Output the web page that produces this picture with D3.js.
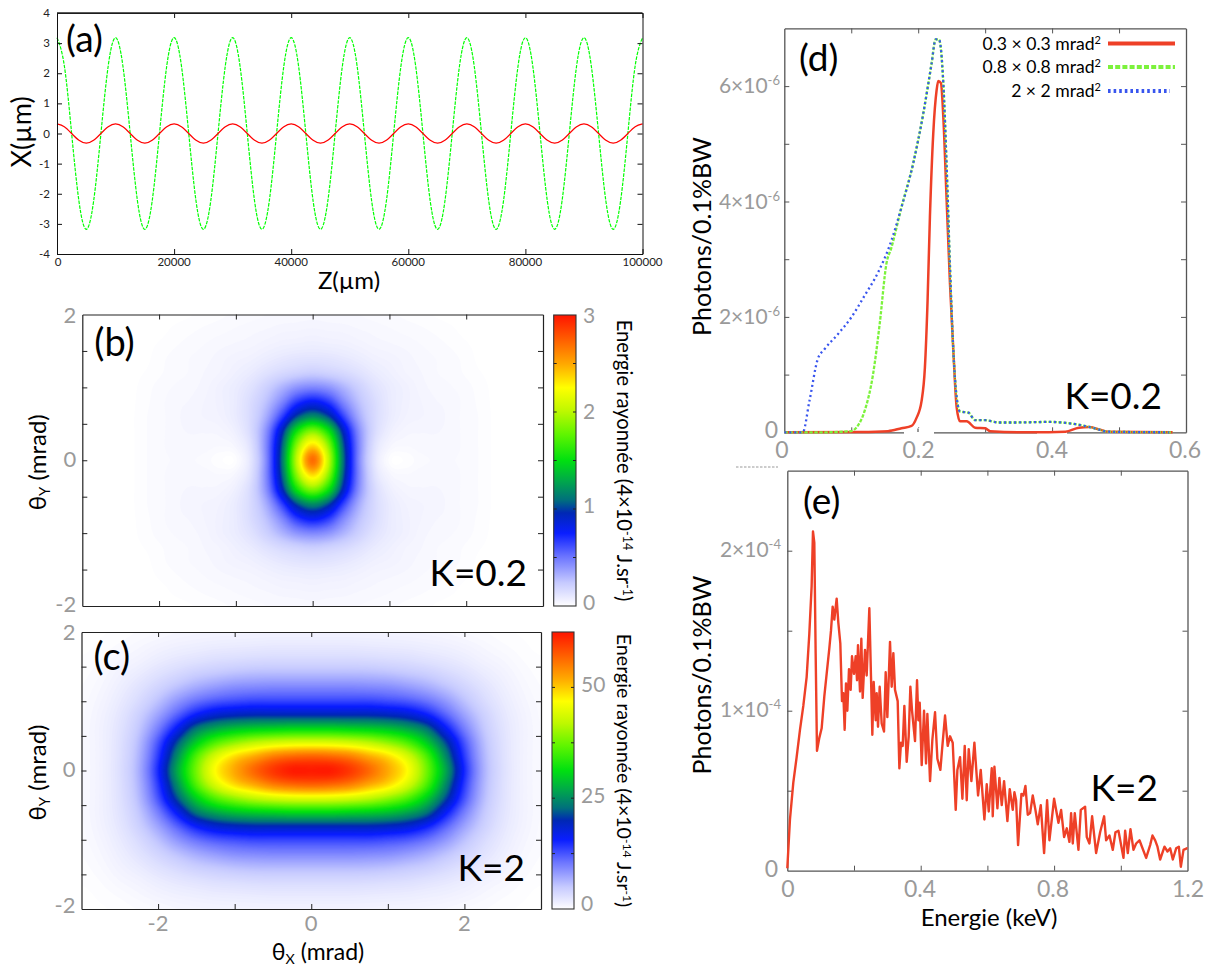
<!DOCTYPE html>
<html><head><meta charset="utf-8">
<script src="https://cdn.jsdelivr.net/npm/d3@7/dist/d3.min.js"></script>
<style>
html,body{margin:0;padding:0;background:#fff}
svg{display:block}
text{font-family:Lato,"Open Sans",sans-serif}
</style></head><body>
<svg id="fig" width="1206" height="966"></svg>
<script>
// ---------- panel (a): trajectories, read every 1250 µm
const trajZ = [0,1250,2500,3750,5000,6250,7500,8750,10000,11250,12500,13750,15000,16250,17500,18750,20000,21250,22500,23750,25000,26250,27500,28750,30000,31250,32500,33750,35000,36250,37500,38750,40000,41250,42500,43750,45000,46250,47500,48750,50000,51250,52500,53750,55000,56250,57500,58750,60000,61250,62500,63750,65000,66250,67500,68750,70000,71250,72500,73750,75000,76250,77500,78750,80000,81250,82500,83750,85000,86250,87500,88750,90000,91250,92500,93750,95000,96250,97500,98750,100000];
const trajK2 = [3.18,2.25,0,-2.25,-3.18,-2.25,0,2.25,3.18,2.25,0,-2.25,-3.18,-2.25,0,2.25,3.18,2.25,0,-2.25,-3.18,-2.25,0,2.25,3.18,2.25,0,-2.25,-3.18,-2.25,0,2.25,3.18,2.25,0,-2.25,-3.18,-2.25,0,2.25,3.18,2.25,0,-2.25,-3.18,-2.25,0,2.25,3.18,2.25,0,-2.25,-3.18,-2.25,0,2.25,3.18,2.25,0,-2.25,-3.18,-2.25,0,2.25,3.18,2.25,0,-2.25,-3.18,-2.25,0,2.25,3.18,2.25,0,-2.25,-3.18,-2.25,0,2.25,3.18];
const trajK02 = [0.32,0.225,0,-0.225,-0.32,-0.225,0,0.225,0.32,0.225,0,-0.225,-0.32,-0.225,0,0.225,0.32,0.225,0,-0.225,-0.32,-0.225,0,0.225,0.32,0.225,0,-0.225,-0.32,-0.225,0,0.225,0.32,0.225,0,-0.225,-0.32,-0.225,0,0.225,0.32,0.225,0,-0.225,-0.32,-0.225,0,0.225,0.32,0.225,0,-0.225,-0.32,-0.225,0,0.225,0.32,0.225,0,-0.225,-0.32,-0.225,0,0.225,0.32,0.225,0,-0.225,-0.32,-0.225,0,0.225,0.32,0.225,0,-0.225,-0.32,-0.225,0,0.225,0.32];
const aXTicks = [0,20000,40000,60000,80000,100000];
const aYTicks = [-4,-3,-2,-1,0,1,2,3,4];

// ---------- panel (b): radiated energy, one quadrant (θx >= 0, θy >= 0)
const bThetaX = [0,0.2,0.4,0.6,0.8,1,1.2,1.4,1.6,1.8,2,2.2,2.4,2.6,2.8,3];
const bThetaY = [0,0.2,0.4,0.6,0.8,1,1.2,1.4,1.6,1.8,2];
const bEnergy = [
 [2.7,2.05,1.1,0.45,0.12,0.01,0.005,0.02,0.025,0.025,0.02,0.012,0,0,0,0],
 [2.35,1.9,1.05,0.46,0.14,0.04,0.025,0.03,0.03,0.03,0.02,0.012,0,0,0,0],
 [1.85,1.55,0.92,0.43,0.17,0.07,0.04,0.035,0.035,0.03,0.02,0.012,0,0,0,0],
 [1.2,1.03,0.65,0.34,0.17,0.09,0.055,0.045,0.04,0.03,0.02,0.012,0,0,0,0],
 [0.78,0.68,0.45,0.27,0.16,0.09,0.06,0.045,0.035,0.03,0.02,0.01,0,0,0,0],
 [0.45,0.41,0.31,0.21,0.13,0.085,0.06,0.04,0.03,0.025,0.018,0.008,0,0,0,0],
 [0.22,0.2,0.17,0.13,0.09,0.065,0.045,0.035,0.025,0.02,0.012,0.004,0,0,0,0],
 [0.12,0.115,0.1,0.08,0.06,0.05,0.04,0.03,0.024,0.018,0.01,0,0,0,0,0],
 [0.07,0.065,0.06,0.05,0.04,0.035,0.03,0.024,0.018,0.012,0.005,0,0,0,0,0],
 [0.045,0.042,0.04,0.034,0.03,0.025,0.02,0.016,0.011,0.006,0,0,0,0,0,0],
 [0.03,0.028,0.026,0.024,0.02,0.016,0.012,0.008,0.003,0,0,0,0,0,0,0]
];
// ---------- panel (c): radiated energy, one quadrant
const cThetaX = [0,0.25,0.5,0.75,1,1.25,1.5,1.75,2,2.25,2.5,2.75,3];
const cThetaY = [0,0.2,0.4,0.6,0.8,1,1.2,1.4,1.6,1.8,2];
const cEnergy = [
 [62,62,60,56.5,52,47,38,27,15,6.8,3,1.2,0.5],
 [57,56.5,55,52,49,44,36,25,14,6.5,2.9,1.2,0.5],
 [44.5,44.3,43.5,42,39.5,36,30,21.5,12.5,6,2.8,1.2,0.5],
 [31,31,30.5,30,29,27,23.5,16.5,10,5.2,2.6,1.2,0.5],
 [20,20,20,20,19.5,18.5,16,11.8,7.6,4.4,2.3,1.1,0.45],
 [13.5,13.5,13.5,13.5,13,12.3,10.8,8.4,5.6,3.4,1.9,0.9,0.4],
 [9.5,9.5,9.5,9.3,9,8.2,7.1,5.6,4,2.6,1.5,0.7,0.3],
 [6,6,6,5.9,5.6,5.1,4.5,3.6,2.7,1.8,1.1,0.5,0.2],
 [3.5,3.5,3.5,3.4,3.2,3,2.6,2.2,1.7,1.1,0.7,0.3,0.12],
 [2,2,2,1.9,1.8,1.7,1.5,1.3,1,0.65,0.35,0.15,0],
 [1.1,1.1,1.1,1.05,1,0.95,0.85,0.7,0.5,0.32,0.16,0.05,0]
];
// palette stops: fraction of the colour range, colour
const paletteT = [0,0.012,0.08,0.17,0.25,0.32,0.365,0.43,0.5,0.59,0.67,0.75,0.83,0.92,1];
const paletteC = ["#ffffff","#f6f6ff","#c6caff","#6b74ff","#0a1eff","#0028b4","#00707c","#00a84a","#00e010","#60f500","#bef800","#ffff00","#ffaa00","#ff5a00","#ff1400"];

// ---------- panel (d): spectra K=0.2 (energy keV, photons in 1e-6)
const d1E = [0,0.115,0.155,0.175,0.19,0.1975,0.205,0.21,0.214,0.2175,0.2225,0.2275,0.23,0.234,0.2375,0.2425,0.2475,0.2525,0.2575,0.2625,0.2725,0.285,0.3,0.3075,0.37,0.42,0.44,0.455,0.47,0.485,0.58];
const d1P = [0,0.005,0.02,0.07,0.11,0.25,0.54,1.12,2.28,3.73,5.18,5.93,6.09,6.05,5.47,4.02,2.57,1.41,0.43,0.19,0.19,0.08,0.07,0.02,0,0.01,0.08,0.09,0.05,0.01,0];
const d2E = [0,0.06,0.1,0.1075,0.12,0.1325,0.1425,0.1525,0.16,0.175,0.1925,0.2075,0.22,0.226,0.231,0.2375,0.2425,0.2475,0.2525,0.2575,0.2625,0.275,0.285,0.3,0.32,0.345,0.395,0.435,0.46,0.485,0.58];
const d2P = [0,0,0.02,0.08,0.37,1.0,1.88,2.92,3.2,3.9,4.66,5.52,6.39,6.81,6.81,6.05,4.6,2.86,1.41,0.6,0.36,0.34,0.21,0.21,0.17,0.17,0.18,0.14,0.08,0.01,0];
const d3E = [0,0.0275,0.0375,0.05,0.06,0.08,0.1,0.12,0.14,0.1575,0.175,0.1925,0.2075,0.22,0.226,0.231,0.2375,0.2425,0.2475,0.2525,0.2575,0.2625,0.275,0.285,0.3,0.32,0.345,0.395,0.435,0.46,0.485,0.575];
const d3P = [0,0,0.54,1.27,1.44,1.7,1.99,2.37,2.77,3.24,3.9,4.66,5.52,6.39,6.81,6.81,6.05,4.6,2.86,1.41,0.6,0.36,0.34,0.21,0.21,0.17,0.17,0.18,0.14,0.08,0.01,0];
const dLegend = ["0.3 × 0.3 mrad","0.8 × 0.8 mrad","2 × 2 mrad"];

// ---------- panel (e): spectrum K=2 (energy keV, photons in 1e-4)
const eE = [0,0.008,0.018,0.028,0.038,0.048,0.058,0.066,0.073,0.077,0.081,0.085,0.089,0.096,0.103,0.111,0.118,0.126,0.131,0.136,0.141,0.148,0.153,0.159,0.164,0.168,0.172,0.176,0.18,0.185,0.19,0.194,0.2,0.205,0.209,0.212,0.218,0.222,0.226,0.233,0.238,0.246,0.251,0.255,0.259,0.265,0.268,0.272,0.277,0.283,0.29,0.295,0.3,0.308,0.313,0.318,0.323,0.331,0.336,0.341,0.346,0.351,0.358,0.364,0.369,0.374,0.383,0.389,0.393,0.397,0.403,0.41,0.416,0.42,0.428,0.435,0.443,0.45,0.459,0.465,0.473,0.481,0.488,0.496,0.505,0.51,0.518,0.525,0.532,0.538,0.544,0.552,0.561,0.572,0.58,0.591,0.598,0.604,0.613,0.616,0.621,0.63,0.636,0.643,0.65,0.66,0.667,0.676,0.681,0.686,0.692,0.702,0.708,0.714,0.721,0.728,0.736,0.744,0.751,0.76,0.77,0.779,0.786,0.8,0.813,0.821,0.83,0.838,0.846,0.851,0.856,0.862,0.873,0.88,0.893,0.898,0.906,0.914,0.926,0.938,0.95,0.956,0.966,0.976,0.984,0.993,1.008,1.013,1.021,1.029,1.038,1.046,1.056,1.076,1.088,1.095,1.103,1.11,1.118,1.131,1.14,1.148,1.156,1.166,1.174,1.18,1.188,1.198,1.2];
const eP = [0.015,0.32,0.55,0.71,0.88,1.03,1.21,1.48,1.78,2.12,2.05,1.36,0.75,0.83,0.89,1.09,1.23,1.39,1.5,1.65,1.57,1.7,1.55,1.42,1.06,1.11,0.88,1.17,1.0,1.26,1.13,1.34,1.23,1.34,1.19,1.41,1.12,1.45,1.08,1.38,1.22,1.64,1.21,0.85,1.18,0.94,1.11,0.9,1.15,0.92,0.87,1.24,0.96,1.43,1.15,1.36,1.13,1.06,0.64,0.8,0.78,1.03,0.68,0.84,1.15,1.0,0.81,1.19,0.94,1.05,0.66,1.0,0.67,0.98,0.56,0.82,0.99,0.7,0.63,0.78,0.97,0.78,0.84,0.8,0.38,0.63,0.71,0.45,0.78,0.44,0.76,0.56,0.8,0.47,0.63,0.32,0.54,0.37,0.64,0.34,0.65,0.39,0.58,0.41,0.56,0.31,0.51,0.38,0.49,0.44,0.16,0.48,0.47,0.53,0.35,0.36,0.47,0.38,0.29,0.41,0.11,0.44,0.19,0.45,0.3,0.38,0.21,0.265,0.18,0.36,0.17,0.36,0.13,0.38,0.4,0.21,0.17,0.34,0.11,0.24,0.34,0.19,0.22,0.13,0.24,0.25,0.08,0.25,0.11,0.26,0.13,0.17,0.19,0.08,0.16,0.22,0.19,0.15,0.07,0.15,0.12,0.14,0.07,0.14,0.15,0.025,0.13,0.14,0.14];

// ---------- rendering ----------
const svg = d3.select("#fig");
const GRAY = "#9a9a9a", AX = "#555";
let uid = 0;

function frame(g, x, y, xt, yt, color, bw) {
  const add = (ax, tr) => {
    const a = g.append("g").attr("transform", tr).call(ax);
    a.selectAll("text").remove();
    a.select(".domain").attr("stroke", color).attr("stroke-width", bw || 1.2);
    a.selectAll(".tick line").attr("stroke", color).attr("stroke-width", 1);
    return a;
  };
  const [x0, x1] = x.range(), [y1, y0] = y.range();
  add(d3.axisBottom(x).tickValues(xt).tickSize(-5).tickSizeOuter(0), `translate(0,${y1})`);
  add(d3.axisTop(x).tickValues(xt).tickSize(-5).tickSizeOuter(0), `translate(0,${y0})`);
  add(d3.axisLeft(y).tickValues(yt).tickSize(-5).tickSizeOuter(0), `translate(${x0},0)`);
  add(d3.axisRight(y).tickValues(yt).tickSize(-5).tickSizeOuter(0), `translate(${x1},0)`);
}
function label(g, s, x, y, size, opt) {
  opt = opt || {};
  return g.append("text").attr("x", x).attr("y", y).attr("font-size", size)
    .attr("fill", opt.fill || "#000").attr("text-anchor", opt.anchor || "start")
    .attr("font-family", opt.font || null).text(s);
}
// parts: [text, isSmall, dy]
function rotLabel(g, parts, x, y, size, angle, fill) {
  const t = g.append("text").attr("transform", `translate(${x},${y}) rotate(${angle})`)
    .attr("font-size", size).attr("text-anchor", "middle").attr("fill", fill || "#000");
  parts.forEach(p => {
    const s = t.append("tspan").text(p[0]);
    if (p[1]) s.attr("font-size", size * 0.62);
    if (p[2]) s.attr("dy", p[2]);
  });
  return t;
}
function sup(g, base, exp, x, y, size, fill) {
  const t = g.append("text").attr("x", x).attr("y", y).attr("font-size", size)
    .attr("text-anchor", "end").attr("fill", fill);
  t.append("tspan").text(base);
  t.append("tspan").attr("font-size", size * 0.62).attr("dy", -size * 0.38).text(exp);
}

// Panel (a)
{
  const g = svg.append("g");
  const x = d3.scaleLinear().domain([0, 100000]).range([57, 642.5]);
  const y = d3.scaleLinear().domain([-4, 4]).range([254, 13]);
  const line = d3.line().x((d, i) => x(trajZ[i])).y(d => y(d)).curve(d3.curveNatural);
  g.append("path").datum(trajK2).attr("d", line).attr("fill", "none").attr("stroke", "#00ff00")
    .attr("stroke-width", 1.2).attr("stroke-dasharray", "3.5,1.2");
  g.append("path").datum(trajK02).attr("d", line).attr("fill", "none").attr("stroke", "#ff0000")
    .attr("stroke-width", 1.2);
  frame(g, x, y, aXTicks, aYTicks, "#111", 1);
  g.append("line").attr("x1", 57).attr("x2", 642.5).attr("y1", y(4)).attr("y2", y(4)).attr("stroke", "#222").attr("stroke-width", 1.6);
  aXTicks.forEach((v, i) => label(g, v, x(v) + (i == 0 ? 1 : 0), 266, 11.5, {anchor: "middle", font: "Liberation Sans", fill: "#222"}));
  aYTicks.forEach(v => label(g, v, 50, y(v) + 4, 11.5, {anchor: "end", font: "Liberation Sans", fill: "#222"}));
  label(g, "(a)", 66, 52, 37);
  label(g, "Z(µm)", 349, 289, 24, {anchor: "middle"});
  rotLabel(g, [["X(µm)"]], 31, 132, 27, -90);
}

// Heat-map panels
function heat(px, py, qx, qy, q, vmax, cbBox, cbTicks, cfg) {
  const g = svg.append("g");
  const x = d3.scaleLinear().domain([-3, 3]).range([px[0], px[1]]);
  const y = d3.scaleLinear().domain([-2, 2]).range([py[1], py[0]]);
  const colour = d3.scaleLinear().domain(paletteT.map(t => t * vmax)).range(paletteC).clamp(true);

  // signed full grid mirrored from the quadrant
  const fx = [...qx.slice(1).reverse().map(v => -v), ...qx];
  const fy = [...qy.slice(1).reverse().map(v => -v), ...qy];
  const val = (i, j) => {
    const ii = Math.abs(i - (qx.length - 1)), jj = Math.abs(j - (qy.length - 1));
    return q[Math.min(jj, qy.length - 1)][Math.min(ii, qx.length - 1)];
  };
  // Catmull-Rom resampling so that the filled contours are smooth like the interpolated original
  const up = 8, nx = fx.length, ny = fy.length;
  const W = (nx - 1) * up + 1, H = (ny - 1) * up + 1;
  const cr = (a, b, c, d, t) => 0.5 * (2 * b + (c - a) * t + (2 * a - 5 * b + 4 * c - d) * t * t + (3 * b - a - 3 * c + d) * t * t * t);
  const cl = (v, n) => Math.max(0, Math.min(n - 1, v));
  const field = new Float64Array(W * H);
  for (let m = 0; m < H; m++) for (let k = 0; k < W; k++) {
    const i = Math.min(Math.floor(k / up), nx - 2), j = Math.min(Math.floor(m / up), ny - 2);
    const tx = k / up - i, ty = m / up - j;
    const row = dj => cr(val(cl(i - 1, nx), cl(j + dj, ny)), val(i, cl(j + dj, ny)), val(i + 1, cl(j + dj, ny)), val(cl(i + 2, nx), cl(j + dj, ny)), tx);
    field[m * W + k] = cr(row(-1), row(0), row(1), row(2), ty);
  }
  const step = vmax / 300;
  const thresholds = d3.range(step * 0.4, vmax, step);
  const cx = d3.scaleLinear().domain([0.5, W - 0.5]).range([x(fx[0]), x(fx[nx - 1])]);
  const cy = d3.scaleLinear().domain([0.5, H - 0.5]).range([y(fy[0]), y(fy[ny - 1])]);
  const path = d3.geoPath(d3.geoTransform({point(a, b) { this.stream.point(cx(a), cy(b)); }}));
  const cid = "clip" + (++uid);
  g.append("clipPath").attr("id", cid).append("rect").attr("x", px[0]).attr("y", py[0])
    .attr("width", px[1] - px[0]).attr("height", py[1] - py[0]);
  g.append("g").attr("clip-path", `url(#${cid})`).selectAll("path")
    .data(d3.contours().size([W, H]).thresholds(thresholds)(Array.from(field)))
    .join("path").attr("d", path).attr("fill", d => colour(d.value + step / 2));
  frame(g, x, y, [-2, -1, 0, 1, 2], [-1.5, -1, -0.5, 0, 0.5, 1, 1.5], "#222", 1.2);

  // colour bar
  const [bx0, bx1, by0, by1] = cbBox;
  const cbY = d3.scaleLinear().domain([0, vmax]).range([by1, by0]);
  const grad = "grad" + uid;
  const lg = svg.append("defs").append("linearGradient").attr("id", grad).attr("x1", 0).attr("x2", 0).attr("y1", 1).attr("y2", 0);
  lg.selectAll("stop").data(paletteT).join("stop").attr("offset", d => d).attr("stop-color", (d, i) => paletteC[i]);
  g.append("rect").attr("x", bx0).attr("y", by0).attr("width", bx1 - bx0).attr("height", by1 - by0)
    .attr("fill", `url(#${grad})`).attr("stroke", "#333").attr("stroke-width", 1.1);
  cfg.cbMinor.forEach(v => {
    g.append("line").attr("x1", bx1 - 3).attr("x2", bx1).attr("y1", cbY(v)).attr("y2", cbY(v)).attr("stroke", "#222");
    g.append("line").attr("x1", bx0).attr("x2", bx0 + 3).attr("y1", cbY(v)).attr("y2", cbY(v)).attr("stroke", "#222");
  });
  cbTicks.forEach((v, i) => label(g, v, bx1 + 7, cbY(v) + cfg.cbOff[i], 21, {fill: GRAY}));

  // y tick labels
  [2, 0, -2].forEach((v, i) => label(g, v, px[0] - 6, y(v) + cfg.yOff[i], 22, {anchor: "end", fill: GRAY}));
  rotLabel(g, [["θ"], ["Y", true, 4], [" (mrad)", false, -4]], cfg.ylx, y(0) + 2, 24, -90);
  label(g, cfg.tag, px[0] + 12, cfg.tagY, 38);
  label(g, cfg.k, cfg.kx, cfg.ky, 37, {anchor: "end"});
  rotLabel(g, [["Energie rayonnée (4×10"], ["-14", true, -6], [" J.sr", false, 6], ["-1", true, -6], [")", false, 6]],
    cfg.rlx, (by0 + by1) / 2, cfg.rs, 90);
  return {g, x, y};
}
heat([82.3, 543], [314.5, 606], bThetaX, bThetaY, bEnergy, 3, [553.7, 576, 315, 606], [0, 1, 2, 3],
  {cbMinor: [0.5, 1, 1.5, 2, 2.5], cbOff: [4, 4, 7, 8], yOff: [8.5, 7, 6], tag: "(b)", tagY: 356, k: "K=0.2", kx: 527, ky: 586, ylx: 46, rlx: 617, rs: 20.2});
const cp = heat([81.5, 541], [632, 909], cThetaX, cThetaY, cEnergy, 62.5, [552, 574, 632, 909], [0, 25, 50],
  {cbMinor: [12.5, 25, 37.5, 50], cbOff: [2, 5, 5], yOff: [8, 6.5, 4], tag: "(c)", tagY: 670, k: "K=2", kx: 525, ky: 881, ylx: 46, rlx: 617, rs: 19.6});
[-2, 0, 2].forEach(v => label(cp.g, v, cp.x(v), 931, 22, {anchor: "middle", fill: GRAY}));
rotLabel(cp.g, [["θ"], ["X", true, 4], [" (mrad)", false, -4]], 318, 960, 23, 0);

// Panel (d)
{
  const g = svg.append("g");
  const x = d3.scaleLinear().domain([0, 0.6]).range([784.3, 1186]);
  const y = d3.scaleLinear().domain([0, 7]).range([432.3, 28.4]);
  const ln = (E) => d3.line().x((d, i) => x(E[i])).y(d => y(d)).curve(d3.curveMonotoneX);
  const RED = "#ee4027", GRN = "#7cf23c", BLU = "#3855ee";
  frame(g, x, y, d3.range(1, 6).map(v => v / 10), d3.range(1, 7), AX, 1.3);
  g.append("rect").attr("x", 904).attr("y", 428).attr("width", 30).attr("height", 6).attr("fill", "#fff");
  g.append("rect").attr("x", 1037).attr("y", 431).attr("width", 30).attr("height", 4).attr("fill", "#fff");
  g.append("line").attr("x1", 918).attr("x2", 918).attr("y1", 428.5).attr("y2", 432).attr("stroke", "#333");
  g.append("path").datum(d1P).attr("d", ln(d1E)).attr("fill", "none").attr("stroke", RED).attr("stroke-width", 2.5);
  g.append("path").datum(d2P).attr("d", ln(d2E)).attr("fill", "none").attr("stroke", GRN).attr("stroke-width", 2.3).attr("stroke-dasharray", "3.5,1.5");
  g.append("path").datum(d3P).attr("d", ln(d3E)).attr("fill", "none").attr("stroke", BLU).attr("stroke-width", 2.3).attr("stroke-dasharray", "2,3");
  [[6, "6×10"], [4, "4×10"], [2, "2×10"]].forEach(([v, s]) => sup(g, s, "-6", 780, y(v) + 7, 21, GRAY));
  label(g, "0", 778, y(0) + 6, 23, {anchor: "end", fill: GRAY});
  [[0, "0", 782], [0.2, "0.2", 918.5], [0.4, "0.4", 1052], [0.6, "0.6", 1185]].forEach(([v, s, xx]) =>
    label(g, s, xx, 458, 23, {anchor: "middle", fill: GRAY}));
  rotLabel(g, [["Photons/0.1%BW"]], 711, 236.5, 25, -90);
  label(g, "(d)", 799, 71, 37);
  label(g, "K=0.2", 1162, 409, 37, {anchor: "end"});
  const legY = [43.5, 67, 91];
  const legDash = [null, "5,2.2", "2.6,3"];
  const legCol = [RED, GRN, BLU];
  dLegend.forEach((s, i) => {
    const t = g.append("text").attr("x", 1101).attr("y", legY[i] + 6).attr("font-size", 17.6).attr("text-anchor", "end");
    t.append("tspan").text(s);
    t.append("tspan").attr("font-size", 11).attr("dy", -6).text("2");
    g.append("line").attr("x1", 1108).attr("x2", i == 2 ? 1170 : 1175).attr("y1", legY[i]).attr("y2", legY[i])
      .attr("stroke", legCol[i]).attr("stroke-width", 3.8).attr("stroke-dasharray", legDash[i]);
  });
}

// Panel (e)
{
  const g = svg.append("g");
  const x = d3.scaleLinear().domain([0, 1.2]).range([787.3, 1187.5]);
  const y = d3.scaleLinear().domain([0, 2.5]).range([870.7, 470.7]);
  frame(g, x, y, d3.range(1, 6).map(v => v / 5), [0.5, 1, 1.5, 2], AX, 1.3);
  g.append("path").datum(eP).attr("d", d3.line().x((d, i) => x(eE[i])).y(d => y(d)))
    .attr("fill", "none").attr("stroke", "#ee4027").attr("stroke-width", 2.4).attr("stroke-linejoin", "round");
  sup(g, "2×10", "-4", 781, y(2) + 6, 21, GRAY);
  sup(g, "1×10", "-4", 781, y(1) + 6, 21, GRAY);
  label(g, "0", 778, y(0) + 6, 23, {anchor: "end", fill: GRAY});
  [[0, "0", 788], [0.4, "0.4", 920], [0.8, "0.8", 1053], [1.2, "1.2", 1188]].forEach(([v, s, xx]) =>
    label(g, s, xx, 897, 23, {anchor: "middle", fill: GRAY}));
  rotLabel(g, [["Photons/0.1%BW"]], 711, 675, 25, -90);
  label(g, "(e)", 803, 514, 37);
  label(g, "K=2", 1158, 801, 37, {anchor: "end"});
  label(g, "Energie (keV)", 989, 926, 24, {anchor: "middle"});
  g.append("line").attr("x1", 736).attr("x2", 778).attr("y1", 467).attr("y2", 467).attr("stroke", "#999").attr("stroke-dasharray", "2.5,1.5");
}
</script>
</body></html>
